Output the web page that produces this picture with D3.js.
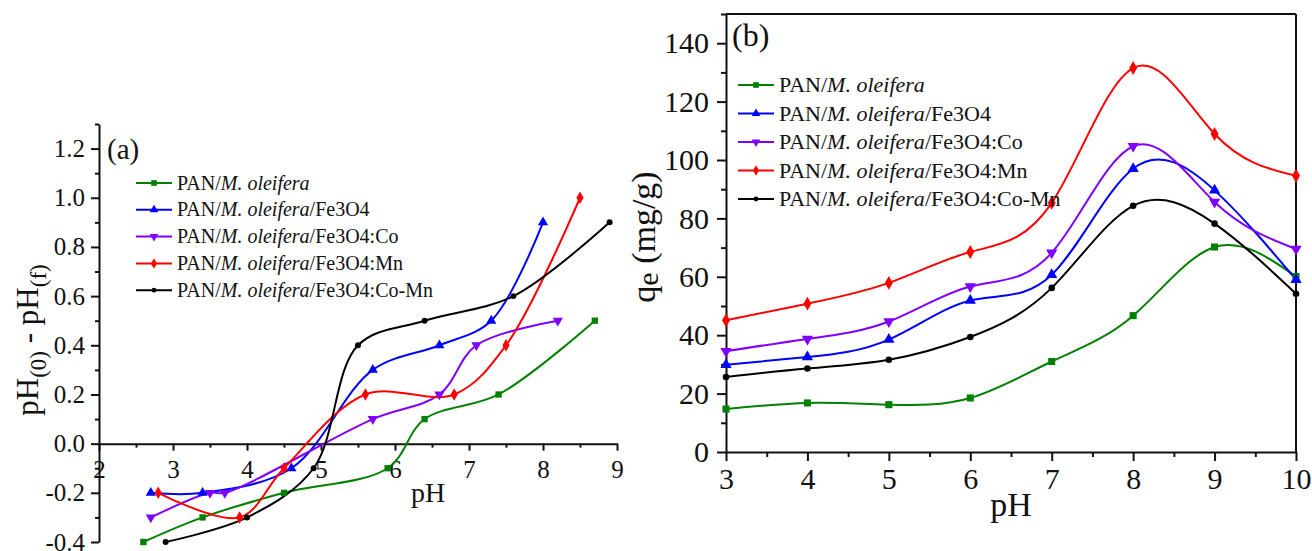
<!DOCTYPE html>
<html>
<head>
<meta charset="utf-8">
<style>
  body{margin:0;background:#fff;}
  svg{display:block;}
  text{font-family:"Liberation Serif","Times New Roman",serif;fill:#111;}
</style>
<script src="https://cdn.jsdelivr.net/npm/d3@7"></script>
</head>
<body>
<svg id="chart" width="1312" height="551"></svg>
<script>
// ---- data ----
var labelSuffix = ["", "/Fe3O4", "/Fe3O4:Co", "/Fe3O4:Mn", "/Fe3O4:Co-Mn"];

// panel (a): pH(0) - pH(f) against pH
var phOleiferaA = [2.6, 3.4, 4.5, 5.9, 6.4, 7.4, 8.7];
var dOleiferaA  = [-0.4, -0.3, -0.2, -0.1, 0.1, 0.2, 0.5];
var phFeA = [2.7, 3.4, 4.6, 5.7, 6.6, 7.3, 8.0];
var dFeA  = [-0.2, -0.2, -0.1, 0.3, 0.4, 0.5, 0.9];
var phCoA = [2.7, 3.5, 3.7, 5.7, 6.6, 7.1, 8.2];
var dCoA  = [-0.3, -0.2, -0.2, 0.1, 0.2, 0.4, 0.5];
var phMnA = [2.8, 3.9, 4.5, 5.6, 6.8, 7.5, 8.5];
var dMnA  = [-0.2, -0.3, -0.1, 0.2, 0.2, 0.4, 1.0];
var phCoMnA = [2.9, 4.0, 4.9, 5.5, 6.4, 7.6, 8.9];
var dCoMnA  = [-0.4, -0.3, -0.1, 0.4, 0.5, 0.6, 0.9];

// panel (b): qe against pH
var phB = [3, 4, 5, 6, 7, 8, 9, 10];
var qeOleifera = [14.7, 16.8, 16.2, 18.5, 31.0, 46.7, 70.2, 60.1];
var qeFe       = [29.9, 32.5, 38.5, 51.9, 60.7, 97.0, 89.6, 59.0];
var qeCo       = [34.5, 38.7, 44.7, 56.7, 68.2, 104.7, 85.6, 69.5];
var qeMn       = [45.1, 50.8, 57.9, 68.5, 85.3, 131.5, 108.9, 94.6];
var qeCoMn     = [25.7, 28.6, 31.6, 39.4, 56.2, 84.3, 78.2, 54.2];

var ticksXA = [2, 3, 4, 5, 6, 7, 8, 9];
var ticksYA = [-0.4, -0.2, 0.0, 0.2, 0.4, 0.6, 0.8, 1.0, 1.2];
var ticksXB = [3, 4, 5, 6, 7, 8, 9, 10];
var ticksYB = [0, 20, 40, 60, 80, 100, 120, 140];

// ---- styles ----
var serif = "Liberation Serif, Times New Roman, serif";
var colors = ["#008000", "#0000ff", "#8000ff", "#ff0000", "#000000"];
var shapes = [d3.symbolSquare, d3.symbolTriangle, d3.symbolTriangle, d3.symbolDiamond, d3.symbolCircle];
var flips  = [0, 0, 180, 0, 0];
var sizesB = [50, 55, 55, 55, 34];
var sizesA = [40, 45, 45, 45, 28];

var svg = d3.select("#chart");
svg.append("rect").attr("width", 1312).attr("height", 551).attr("fill", "#fff");

function zip(xs, ys){ return xs.map(function(x, i){ return [x, ys[i]]; }); }

var seriesA = [zip(phOleiferaA, dOleiferaA), zip(phFeA, dFeA), zip(phCoA, dCoA), zip(phMnA, dMnA), zip(phCoMnA, dCoMnA)];
var seriesB = [qeOleifera, qeFe, qeCo, qeMn, qeCoMn].map(function(q){ return zip(phB, q); });

function drawSeries(g, data, x, y, curve, sizes){
  var line = d3.line().x(function(d){ return x(d[0]); }).y(function(d){ return y(d[1]); }).curve(curve);
  data.forEach(function(s, i){
    g.append("path").attr("d", line(s)).attr("fill", "none")
      .attr("stroke", colors[i]).attr("stroke-width", 2);
  });
  data.forEach(function(s, i){
    g.selectAll(null).data(s).enter().append("path")
      .attr("d", d3.symbol().type(shapes[i]).size(sizes[i]))
      .attr("transform", function(d){ return "translate(" + x(d[0]) + "," + y(d[1]) + ") rotate(" + flips[i] + ")"; })
      .attr("fill", colors[i]);
  });
}

function legend(g, x0, y0, dy, fs){
  labelSuffix.forEach(function(suf, i){
    var yy = y0 + i * dy;
    g.append("line").attr("x1", x0).attr("x2", x0 + 36).attr("y1", yy).attr("y2", yy)
      .attr("stroke", colors[i]).attr("stroke-width", 2);
    g.append("path").attr("d", d3.symbol().type(shapes[i]).size(i == 4 ? 18 : 32))
      .attr("transform", "translate(" + (x0 + 18) + "," + yy + ") rotate(" + flips[i] + ")")
      .attr("fill", colors[i]);
    var t = g.append("text").attr("x", x0 + 41).attr("y", yy + fs * 0.33).attr("font-size", fs);
    t.append("tspan").text("PAN/");
    t.append("tspan").attr("font-style", "italic").text("M. oleifera");
    if (suf) t.append("tspan").text(suf);
  });
}

function styleAxis(g, fs){
  g.attr("font-family", serif).attr("font-size", fs);
  g.selectAll(".domain").attr("stroke", "#111").attr("stroke-width", 2);
  g.selectAll(".tick line").attr("stroke", "#111").attr("stroke-width", 2);
  g.selectAll("text").attr("font-family", serif).attr("font-size", fs).attr("fill", "#111");
}

function minorAxis(g){
  g.select(".domain").remove();
  g.selectAll(".tick line").attr("stroke", "#111").attr("stroke-width", 2);
}

// ---- panel (a) ----
var xA = d3.scaleLinear().domain([2, 9]).range([99, 617]);
var yA = d3.scaleLinear().domain([-0.4, 1.3]).range([542, 124]);
var gA = svg.append("g");

var minorXA = d3.range(2.5, 9, 1);
var minorYA = d3.range(-0.3, 1.31, 0.2).map(function(v){ return +v.toFixed(1); });

gA.append("g").attr("transform", "translate(0," + yA(0) + ")")
  .call(d3.axisBottom(xA).tickValues(minorXA).tickFormat("").tickSize(4).tickSizeOuter(0))
  .call(minorAxis);
gA.append("g").attr("transform", "translate(99,0)")
  .call(d3.axisLeft(yA).tickValues(minorYA).tickFormat("").tickSize(4).tickSizeOuter(0))
  .call(minorAxis);

var axXA = gA.append("g").attr("transform", "translate(0," + yA(0) + ")")
  .call(d3.axisBottom(xA).tickValues(ticksXA).tickFormat(d3.format("d")).tickSize(7).tickSizeOuter(0).tickPadding(10));
styleAxis(axXA, 25);
var axYA = gA.append("g").attr("transform", "translate(99,0)")
  .call(d3.axisLeft(yA).tickValues(ticksYA).tickFormat(d3.format(".1f")).tickSize(8).tickSizeOuter(0).tickPadding(6));
styleAxis(axYA, 25);
axYA.selectAll("text").text(function(d){ return d3.format(".1f")(d).replace("\u2212", "-"); });

drawSeries(gA, seriesA, xA, yA, d3.curveCatmullRom.alpha(0.5), sizesA);

gA.append("text").attr("x", 107).attr("y", 159).attr("font-size", 29).text("(a)");
legend(gA, 136, 183, 26.8, 20);

gA.append("text").attr("x", 428).attr("y", 502).attr("text-anchor", "middle").attr("font-size", 28).text("pH");

var tA = gA.append("text").attr("transform", "translate(38,340) rotate(-90)")
  .attr("text-anchor", "middle").attr("font-size", 31);
tA.append("tspan").text("pH");
tA.append("tspan").attr("font-size", 23).attr("dy", 8).text("(0)");
tA.append("tspan").attr("dy", -8).text(" - pH");
tA.append("tspan").attr("font-size", 23).attr("dy", 8).text("(f)");

// ---- panel (b) ----
var xB = d3.scaleLinear().domain([3, 10]).range([726, 1296]);
var yB = d3.scaleLinear().domain([0, 150]).range([452, 14]);
var gB = svg.append("g");

var minorXB = d3.range(3.5, 10, 1);
var minorYB = d3.range(10, 151, 20);

gB.append("g").attr("transform", "translate(0,452)")
  .call(d3.axisBottom(xB).tickValues(minorXB).tickFormat("").tickSize(5).tickSizeOuter(0))
  .call(minorAxis);
gB.append("g").attr("transform", "translate(726,0)")
  .call(d3.axisLeft(yB).tickValues(minorYB).tickFormat("").tickSize(5).tickSizeOuter(0))
  .call(minorAxis);

// frame top and right
gB.append("line").attr("x1", 726).attr("x2", 1296).attr("y1", 14).attr("y2", 14).attr("stroke", "#111").attr("stroke-width", 2);
gB.append("line").attr("x1", 1296).attr("x2", 1296).attr("y1", 14).attr("y2", 452).attr("stroke", "#111").attr("stroke-width", 2);

var axXB = gB.append("g").attr("transform", "translate(0,452)")
  .call(d3.axisBottom(xB).tickValues(ticksXB).tickFormat(d3.format("d")).tickSize(9).tickSizeOuter(0).tickPadding(7));
styleAxis(axXB, 30);
var axYB = gB.append("g").attr("transform", "translate(726,0)")
  .call(d3.axisLeft(yB).tickValues(ticksYB).tickFormat(d3.format("d")).tickSize(9).tickSizeOuter(0).tickPadding(8));
styleAxis(axYB, 30);

drawSeries(gB, seriesB, xB, yB, d3.curveNatural, sizesB);

gB.append("text").attr("x", 732).attr("y", 46).attr("font-size", 32).text("(b)");
legend(gB, 738, 85, 28.5, 22);

gB.append("text").attr("x", 1011).attr("y", 516).attr("text-anchor", "middle").attr("font-size", 34).text("pH");

var tB = gB.append("text").attr("transform", "translate(655,237) rotate(-90)")
  .attr("text-anchor", "middle").attr("font-size", 34);
tB.append("tspan").text("q");
tB.append("tspan").attr("font-size", 30).attr("dy", 3).text("e");
tB.append("tspan").attr("dy", -3).text(" (mg/g)");
</script>
</body>
</html>
